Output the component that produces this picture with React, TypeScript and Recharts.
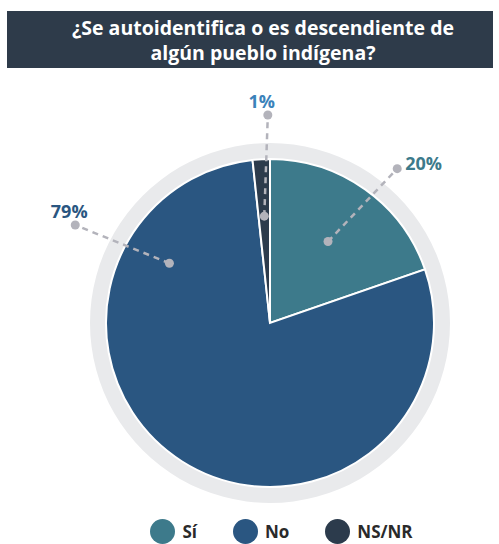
import React from "react";
import { PieChart, Pie, Cell, Legend } from "recharts";

const categories = ["Sí", "No", "NS/NR"];
const shares = [19.7, 78.6, 1.7];
const shareLabels = ["20%", "79%", "1%"];

const sliceColors = ["#3d7a8b", "#2a5681", "#2c3b4c"];
const labelColors = ["#3d7a8b", "#2a5681", "#3b82ba"];
// leader line layout (angle null = middle of the slice)
const innerDotAngle: (number | null)[] = [null, 149.3, null];
const outerDotAngle: (number | null)[] = [50.5, 153.3, 90.6];
const innerDotRadius = [100, 117, 107];
const outerDotRadius = [200, 218, 208];

const RAD = Math.PI / 180;
const CX = 270;
const CY = 323;

const data = categories.map((name, i) => ({ name, value: shares[i], label: shareLabels[i] }));

const polar = (cx: number, cy: number, r: number, deg: number) => [
  cx + r * Math.cos(-deg * RAD),
  cy + r * Math.sin(-deg * RAD),
];

const renderLabel = (props: any) => {
  const { cx, cy, midAngle, index } = props;
  const a1 = innerDotAngle[index] ?? midAngle;
  const a2 = outerDotAngle[index] ?? midAngle;
  const [x1, y1] = polar(cx, cy, innerDotRadius[index], a1);
  const [x2, y2] = polar(cx, cy, outerDotRadius[index], a2);
  const right = Math.cos(a2 * RAD) > 0.5;
  return (
    <g key={`lbl-${index}`}>
      <line x1={x1} y1={y1} x2={x2} y2={y2} stroke="#b3b3bb" strokeWidth={2.5} strokeDasharray="6 5" />
      <circle cx={x1} cy={y1} r={4.5} fill="#b3b3bb" />
      <circle cx={x2} cy={y2} r={4.5} fill="#b3b3bb" />
      <text
        x={right ? x2 + 8 : x2 - 6}
        y={right ? y2 - 6 : y2 - 14}
        textAnchor={right ? "start" : "middle"}
        dominantBaseline="central"
        fill={labelColors[index]}
        fontSize={18}
        fontWeight={700}
        fontFamily="'Open Sans', sans-serif"
      >
        {data[index].label}
      </text>
    </g>
  );
};

const renderLegend = () => (
  <div style={{ display: "flex", justifyContent: "center", gap: 36, paddingLeft: 64, boxSizing: "border-box", fontFamily: "'Open Sans', sans-serif", fontWeight: 700, fontSize: 17, color: "#2a2a2a" }}>
    {categories.map((c, i) => (
      <div key={c} style={{ display: "flex", alignItems: "center", gap: 7 }}>
        <span style={{ width: 25, height: 25, borderRadius: "50%", background: sliceColors[i], display: "inline-block" }} />
        <span>{c}</span>
      </div>
    ))}
  </div>
);

export default function App() {
  return (
    <div style={{ position: "relative", width: 499, height: 544, background: "#fff", overflow: "hidden" }}>
      <style>{"body{margin:0}"}</style>
      <div
        style={{
          position: "absolute",
          left: 7,
          top: 11,
          width: 486,
          height: 57,
          background: "#2e3b4a",
          color: "#fff",
          fontFamily: "'Open Sans', sans-serif",
          fontWeight: 700,
          fontSize: 19.5,
          lineHeight: "25px",
          textAlign: "center",
          paddingLeft: 26,
          boxSizing: "border-box",
          display: "flex",
          flexDirection: "column",
          justifyContent: "center",
        }}
      >
        <div>¿Se autoidentifica o es descendiente de</div>
        <div>algún pueblo indígena?</div>
      </div>
      <PieChart
        width={499}
        height={544}
        margin={{ top: 0, right: 0, bottom: 0, left: 0 }}
        style={{ position: "absolute", left: 0, top: 0 }}
      >
        <Pie
          data={[{ value: 1 }]}
          dataKey="value"
          cx={CX}
          cy={CY}
          outerRadius={180}
          fill="#e9eaec"
          stroke="none"
          isAnimationActive={false}
        />
        <Pie
          data={data}
          dataKey="value"
          nameKey="name"
          cx={CX}
          cy={CY}
          outerRadius={164}
          startAngle={90}
          endAngle={-270}
          stroke="#ffffff"
          strokeWidth={2}
          label={renderLabel}
          labelLine={false}
          isAnimationActive={false}
        >
          {data.map((d, i) => (
            <Cell key={d.name} fill={sliceColors[i]} />
          ))}
        </Pie>
        <Legend content={renderLegend} wrapperStyle={{ position: "absolute", top: 519, left: 0, width: 499 }} />
      </PieChart>
    </div>
  );
}
